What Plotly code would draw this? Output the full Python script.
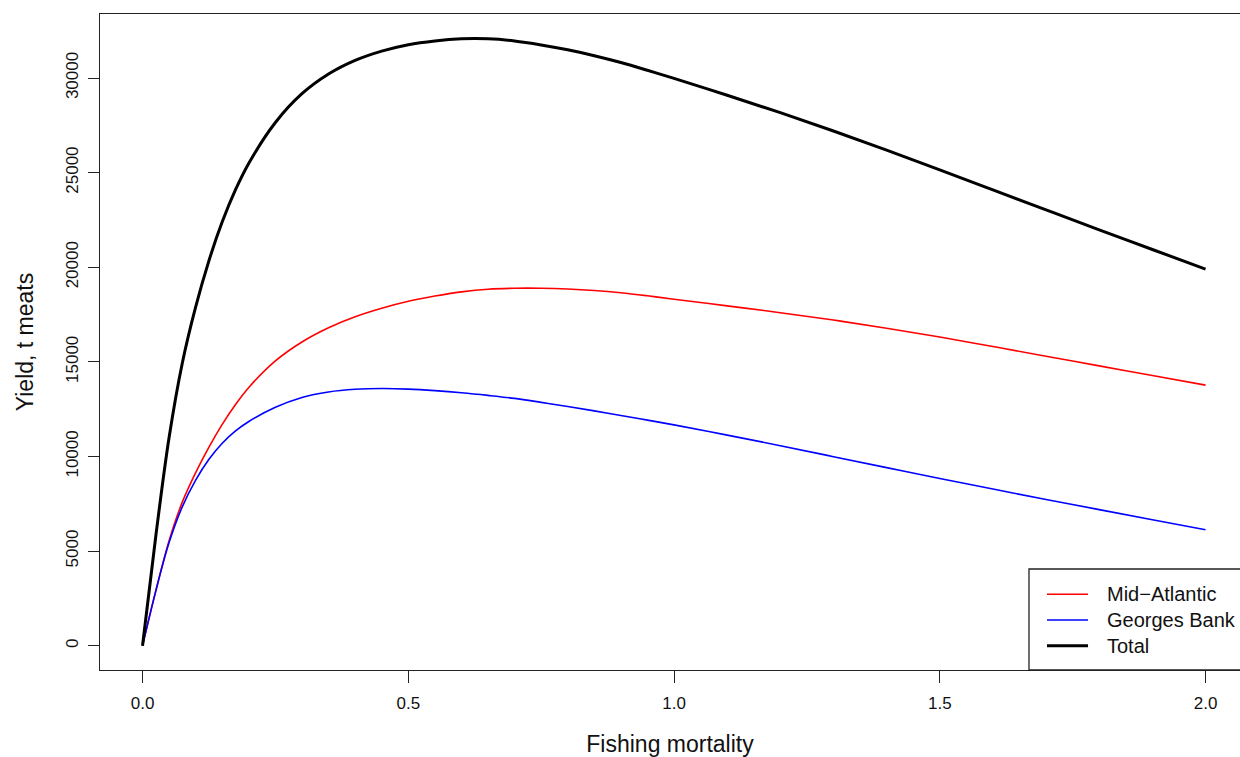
import plotly.graph_objects as go

# Fishing mortality grid
fishing_mortality = [0, 0.025, 0.05, 0.075, 0.1, 0.125, 0.15, 0.175, 0.2, 0.25, 0.3,
                     0.35, 0.4, 0.45, 0.5, 0.55, 0.6, 0.65, 0.7, 0.75, 0.8, 0.85,
                     0.9, 0.95, 1.0, 1.1, 1.2, 1.3, 1.4, 1.5, 1.6, 1.7, 1.8, 1.9, 2.0]

# Yield (t meats) by region
mid_atlantic = [0, 2900, 5550, 7600, 9150, 10500, 11700, 12750, 13650, 15050, 16050,
                16800, 17380, 17830, 18200, 18480, 18700, 18840, 18890, 18890, 18850,
                18770, 18650, 18490, 18310, 17960, 17600, 17210, 16780, 16310, 15810,
                15300, 14790, 14280, 13770]
georges_bank = [0, 2900, 5450, 7350, 8750, 9850, 10700, 11350, 11850, 12600, 13120,
                13410, 13550, 13590, 13560, 13480, 13370, 13230, 13070, 12860, 12640,
                12410, 12170, 11920, 11670, 11130, 10570, 9990, 9410, 8840, 8280,
                7730, 7190, 6660, 6130]
total = [0, 5800, 11000, 14950, 17900, 20350, 22400, 24100, 25500, 27650, 29170,
         30210, 30930, 31420, 31760, 31960, 32070, 32070, 31960, 31750, 31490,
         31180, 30820, 30410, 29980, 29090, 28170, 27200, 26190, 25150, 24090,
         23030, 21980, 20940, 19900]

series_names = ["Mid\u2212Atlantic", "Georges Bank", "Total"]
series_values = [mid_atlantic, georges_bank, total]
series_colors = ["#ff0000", "#0000ff", "#000000"]
series_widths = [1.6, 1.6, 3.0]

x_tick_vals = [0, 0.5, 1.0, 1.5, 2.0]
x_tick_text = ["0.0", "0.5", "1.0", "1.5", "2.0"]
y_tick_vals = [0, 5000, 10000, 15000, 20000, 25000, 30000]
y_tick_text = ["0", "5000", "10000", "15000", "20000", "25000", "30000"]

FONT = "Liberation Sans, Arial, Helvetica, sans-serif"

fig = go.Figure()
for name, vals, col, w in zip(series_names, series_values, series_colors, series_widths):
    fig.add_trace(go.Scatter(
        x=fishing_mortality, y=vals, mode="lines", name=name,
        line=dict(color=col, width=w, shape="spline", smoothing=1.0),
        showlegend=False,
    ))

fig.update_layout(
    width=1240, height=757,
    margin=dict(l=100, r=0, t=14, b=87),
    paper_bgcolor="white", plot_bgcolor="white",
    font=dict(family=FONT, color="#111111"),
    xaxis=dict(
        range=[-0.08, 2.0649],
        tickmode="array", tickvals=x_tick_vals, ticktext=x_tick_text,
        ticks="outside", ticklen=12, tickwidth=1.3, tickcolor="#222222",
        ticklabelstandoff=5,
        showline=True, mirror=True, linecolor="#222222", linewidth=1.3,
        showgrid=False, zeroline=False,
        tickfont=dict(size=17),
        title=dict(text="Fishing mortality", font=dict(size=23), standoff=25),
    ),
    yaxis=dict(
        range=[-1284, 33384],
        tickmode="array", tickvals=y_tick_vals, ticktext=y_tick_text,
        tickangle=-90,
        ticks="outside", ticklen=11, tickwidth=1.3, tickcolor="#222222",
        ticklabelstandoff=3,
        showline=True, mirror=False, linecolor="#222222", linewidth=1.3,
        showgrid=False, zeroline=False,
        tickfont=dict(size=17),
        title=dict(text="Yield, t meats", font=dict(size=23), standoff=22),
    ),
)

# Legend box in the lower-right corner of the plotting region
legend_left = 0.8149
legend_top = 0.154
fig.add_shape(type="rect", xref="paper", yref="paper",
              x0=legend_left, x1=1.05, y0=0, y1=legend_top,
              line=dict(color="#222222", width=1.3), fillcolor="white", layer="above")
row_y = [0.1154, 0.0762, 0.0370]
for name, col, w, ry in zip(series_names, series_colors, series_widths, row_y):
    fig.add_shape(type="line", xref="paper", yref="paper",
                  x0=0.8307, x1=0.8667, y0=ry, y1=ry,
                  line=dict(color=col, width=w), layer="above")
    fig.add_annotation(xref="paper", yref="paper", x=0.8815, y=ry,
                       text=name, showarrow=False, xanchor="left", yanchor="middle",
                       font=dict(size=20, family=FONT, color="#111111"))

fig.write_html("out.html")
